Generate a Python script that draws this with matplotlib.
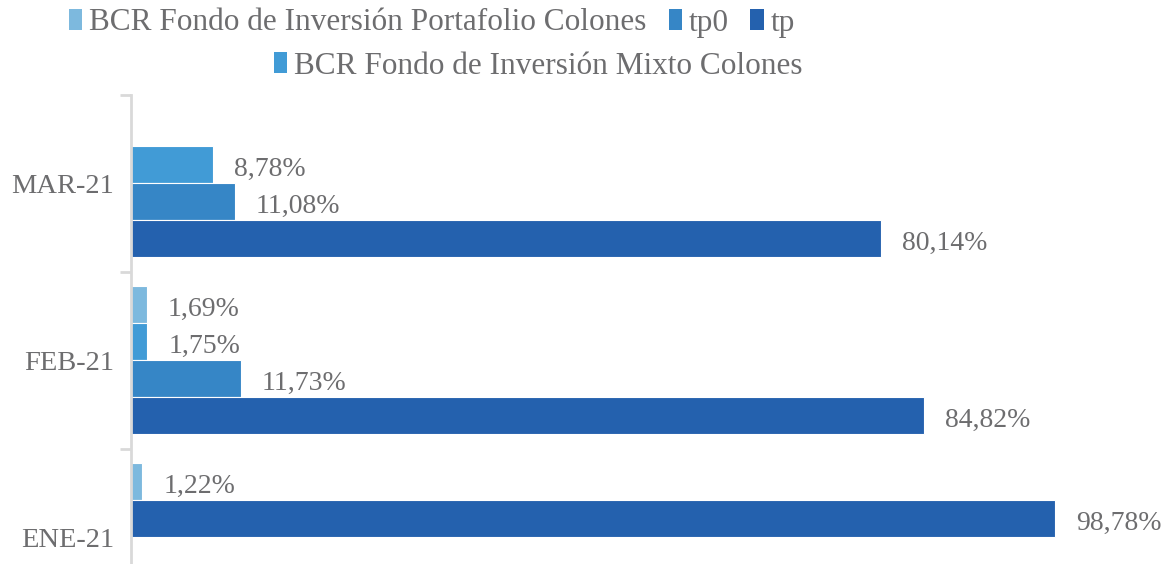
"""Horizontal grouped bars: BCR funds share by month."""

import matplotlib
matplotlib.use("Agg")
import matplotlib.pyplot as plt
from matplotlib.patches import Patch

categories = ["ENE-21", "FEB-21", "MAR-21"]
series_names = [
    "BCR Fondo de Inversión Portafolio Colones",
    "BCR Fondo de Inversión Mixto Colones",
    "tp0",
    "tp",
]
portafolio = [1.22, 1.69, None]
mixto = [None, 1.75, 8.78]
tp0 = [None, 11.73, 11.08]
tp = [98.78, 84.82, 80.14]
series_values = [portafolio, mixto, tp0, tp]

colors = ["#7DB9DE", "#419BD6", "#3686C6", "#2461AE"]
first_slot = [0, 0, 1]  # slot of the first drawn bar in each group (top down)

TEXT = "#6D6D6F"
FONT = "Liberation Serif"
SIZE = 20

fig = plt.figure(figsize=(11.74, 5.64), dpi=100)
W, H = 1174, 564
# axes run past the bottom edge, like the cropped original
ax_left, ax_top, ax_bottom = 131, 95, 626
ax = fig.add_axes([ax_left / W, 1 - ax_bottom / H, 1 - ax_left / W, (ax_bottom - ax_top) / H])

bar_h = 0.209
top_margin = 0.078

for i, cat in enumerate(categories):
    slot = first_slot[i]
    for j, values in enumerate(series_values):
        v = values[i]
        if v is None:
            continue
        y = i + 0.5 - top_margin - (slot + 0.5) * bar_h
        ax.barh(y, v, height=bar_h, color=colors[j], edgecolor="white", linewidth=0.8)
        ax.annotate(f"{v:.2f}%".replace(".", ","), (v, y - 0.03), xytext=(21, 0),
                    textcoords="offset pixels",
                    va="center", ha="left", fontsize=SIZE, family=FONT, color=TEXT,
                    annotation_clip=False)
        slot += 1

ax.set_xlim(0, (W - ax_left) / 9.354)
ax.set_ylim(-0.5, len(categories) - 0.5)

for side in ("top", "right", "bottom"):
    ax.spines[side].set_visible(False)
ax.spines["left"].set_color("#D9D9D9")
ax.spines["left"].set_linewidth(2)
ax.set_xticks([])

ax.set_yticks([k + 0.5 for k in range(-1, len(categories))])
ax.set_yticklabels([])
ax.tick_params(axis="y", which="major", length=8, width=2, color="#D9D9D9")
ax.set_yticks(range(len(categories)), minor=True)
ax.set_yticklabels(categories, minor=True, fontsize=SIZE + 0.5, family=FONT, color=TEXT)
ax.tick_params(axis="y", which="minor", length=0, pad=12)

handles = [Patch(facecolor=c, edgecolor="none") for c in colors]
leg_kw = dict(frameon=False, handlelength=0.42, handleheight=0.62, handletextpad=0.22,
              columnspacing=0.7, prop={"family": FONT, "size": 22.5},
              labelcolor=TEXT, loc="center", borderpad=0, borderaxespad=0)
fig.legend([handles[0], handles[2], handles[3]],
           [series_names[0], series_names[2], series_names[3]],
           ncol=3, bbox_to_anchor=(432 / W, 1 - 23 / H), **leg_kw)
fig.legend([handles[1]], [series_names[1]],
           ncol=1, bbox_to_anchor=(538 / W, 1 - 66 / H), **leg_kw)

fig.savefig("out.png", dpi=100)
